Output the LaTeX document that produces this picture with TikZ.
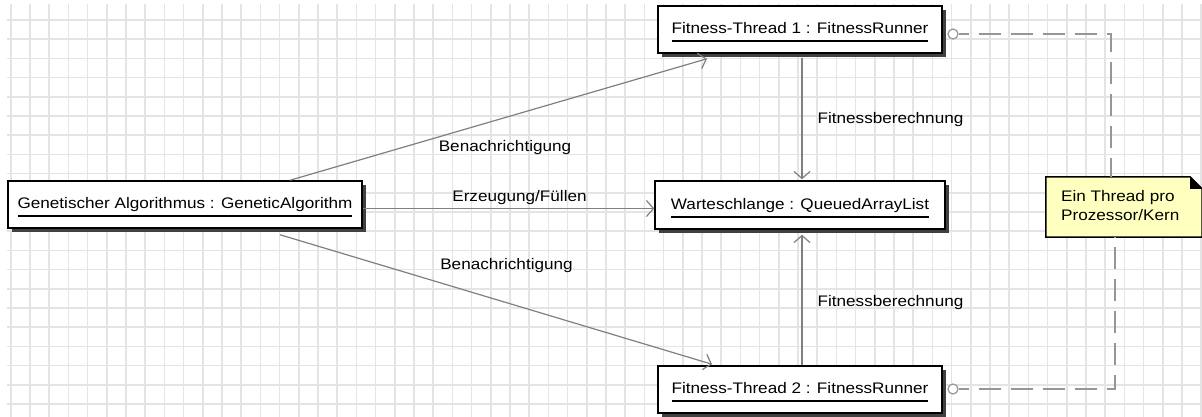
\documentclass[tikz,border=0pt]{standalone}
\usepackage{fontspec}
\setmainfont{Liberation Sans}[FakeStretch=1.12]
\usetikzlibrary{arrows.meta,shadows}

\definecolor{gridgray}{RGB}{228,228,228}
\definecolor{linkgray}{RGB}{128,128,128}
\definecolor{depgray}{RGB}{150,150,150}
\definecolor{noteyellow}{RGB}{255,255,192}

% object name: text with a thick underline below it
\newcommand\objname[1]{\setbox0\hbox{#1}\rlap{\copy0}\rule[-8.5pt]{\wd0}{2pt}}

\begin{document}
\begin{tikzpicture}[x=1pt,y=-1pt,
  font=\fontsize{15.3pt}{18.5pt}\selectfont,
  objbox/.style={draw=black, line width=1.5pt, fill=white, rectangle, inner sep=0pt,
    minimum height=47pt, text height=17pt, text depth=8.5pt,
    drop shadow={shadow xshift=4pt, shadow yshift=-4pt, fill=black!75, opacity=1}},
  msg/.style={draw=linkgray, line width=1.2pt, -{Straight Barb[length=7pt,width=16pt]}},
  lbl/.style={anchor=base, inner sep=0pt},
  dep/.style={draw=depgray, line width=1.5pt, dash pattern=on 22pt off 10pt, dash phase=12pt},
  port/.style={circle, draw=depgray, line width=1.2pt, fill=white, minimum size=10pt, inner sep=0pt},
  gridline/.style={line width=1.6pt, draw=gridgray}
]
\useasboundingbox (0,0) rectangle (1202,417);
\fill[white] (0,0) rectangle (1202,417);

% background grid
\begin{scope}
  \clip (7,5) rectangle (1202,417);
  \foreach \i in {0,...,62} \draw[gridline] (10.7+19.2*\i,0) -- (10.7+19.2*\i,417);
  \foreach \j in {0,...,21} \draw[gridline] (0,20+19.2*\j) -- (1202,20+19.2*\j);
\end{scope}

% objects
\node[objbox, minimum width=354pt] (ga) at (185,204.5) {\objname{Genetischer Algorithmus : GeneticAlgorithm}};
\node[objbox, minimum width=284pt] (t1) at (800,29.5) {\objname{Fitness-Thread 1 : FitnessRunner}};
\node[objbox, minimum width=290pt, minimum height=48pt] (w) at (800,205) {\objname{Warteschlange : QueuedArrayList}};
\node[objbox, minimum width=284pt] (t2) at (800,389.5) {\objname{Fitness-Thread 2 : FitnessRunner}};

% comment note with folded corner
\node[minimum width=156pt, minimum height=60pt, inner sep=0pt] (note) at (1124,207) {};
\draw[line width=1.5pt, fill=noteyellow] (note.north west) -- ([xshift=-12pt]note.north east)
  -- ([yshift=-12pt]note.north east) -- (note.south east) -- (note.south west) -- cycle;
\fill[black] ([xshift=-12pt]note.north east) -- ([yshift=-12pt]note.north east)
  -- ([xshift=-12pt,yshift=-12pt]note.north east) -- cycle;
\node[anchor=base west, align=left, inner sep=0pt] (notetext) at (1061,220) {Ein Thread pro\\Prozessor/Kern};

% ports linked to the note
\node[port] (p1) at (953,34) {};
\node[port] (p2) at (953,389) {};
\draw[dep] (p1.east) -| ([xshift=-13pt]note.north);
\draw[dep] (p2.east) -| ([xshift=-9pt]note.south);

% messages
\draw[msg] ([xshift=105pt]ga.north) -- ([xshift=-93pt,yshift=-5pt]t1.south);
\draw[msg] ([yshift=-4pt]ga.east) -- ([yshift=-3.5pt]w.west);
\draw[msg] ([xshift=95pt,yshift=-6pt]ga.south) -- ([xshift=-88pt,yshift=1pt]t2.north);
\draw[msg] ([xshift=2pt,yshift=-4pt]t1.south) -- ([xshift=2pt,yshift=1pt]w.north);
\draw[msg] ([xshift=2pt]t2.north) -- ([xshift=2pt,yshift=-5pt]w.south);

% message labels
\node[lbl] (lb1) at (505,152) {Benachrichtigung};
\node[lbl] (lb2) at (519.5,201) {Erzeugung/Füllen};
\node[lbl] (lb3) at (506.5,269) {Benachrichtigung};
\node[lbl] (lb4) at (890.5,124) {Fitnessberechnung};
\node[lbl] (lb5) at (890.5,306) {Fitnessberechnung};
\end{tikzpicture}
\end{document}
